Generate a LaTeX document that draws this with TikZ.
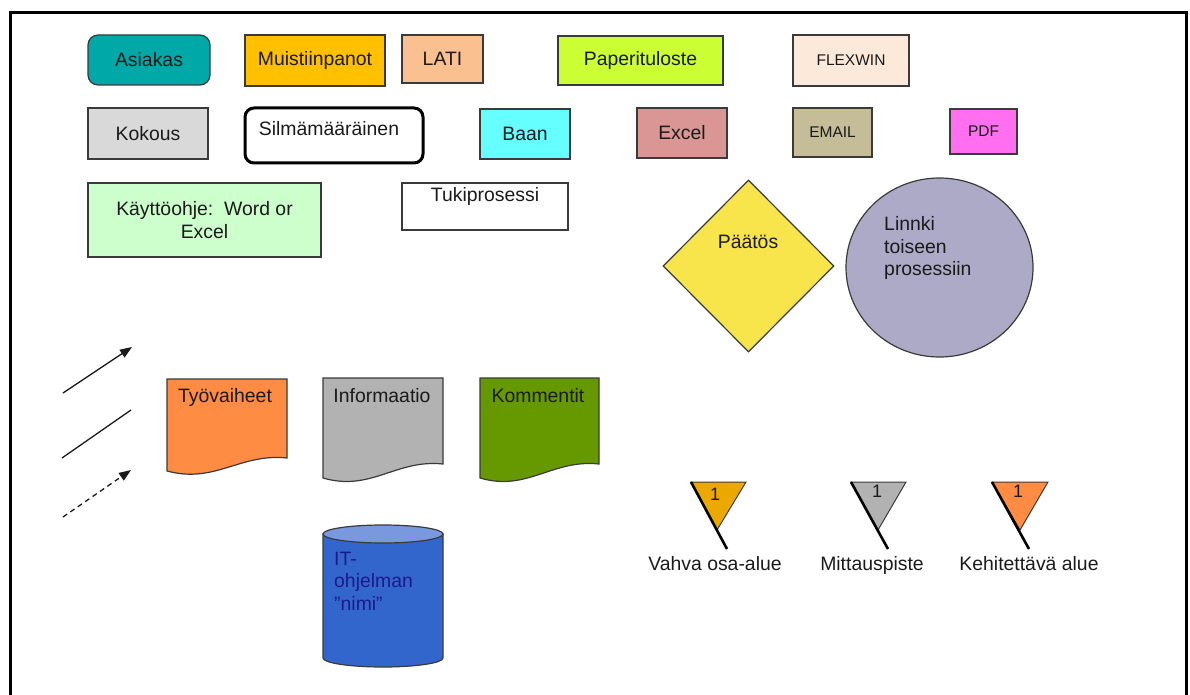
\documentclass[tikz,border=0pt]{standalone}
\usepackage{fontspec}
\setmainfont{Liberation Sans}
\usetikzlibrary{shapes.geometric,arrows.meta}

\definecolor{txt}{HTML}{1A1A1A}
\definecolor{edge}{HTML}{3A3A3A}
\definecolor{cTeal}{HTML}{00A8A8}
\definecolor{cAmber}{HTML}{FFC000}
\definecolor{cPeach}{HTML}{FAC090}
\definecolor{cLime}{HTML}{CCFF33}
\definecolor{cCream}{HTML}{FDE9D9}
\definecolor{cLightGray}{HTML}{D9D9D9}
\definecolor{cCyan}{HTML}{66FFFF}
\definecolor{cRose}{HTML}{D99694}
\definecolor{cKhaki}{HTML}{C4BD97}
\definecolor{cPink}{HTML}{FF6FF0}
\definecolor{cMint}{HTML}{CCFFCC}
\definecolor{cYellow}{HTML}{F8E44B}
\definecolor{cLavender}{HTML}{ADAAC8}
\definecolor{cOrange}{HTML}{FF8C42}
\definecolor{cGray}{HTML}{B2B2B2}
\definecolor{cGreen}{HTML}{669900}
\definecolor{cBlue}{HTML}{3366CC}
\definecolor{cBlueTop}{HTML}{7A98DE}
\definecolor{cNavy}{HTML}{1A1A8C}
\definecolor{cGold}{HTML}{EBA900}

\begin{document}
\begin{tikzpicture}[x=1pt,y=-1pt,
  every node/.style={font=\fontsize{19.4}{22.5}\selectfont, text=txt},
  box/.style={draw=edge, line width=1.2pt, rectangle, inner sep=0pt},
  smallfont/.style={font=\fontsize{15.5}{18}\selectfont},
  docshape/.style={draw=edge, line width=1.2pt},
  arr/.style={draw=txt, line width=1.3pt, -{Triangle[length=12pt,width=9pt]}},
  flagpole/.style={draw=black, line width=2.6pt},
  flagtri/.style={draw=edge, line width=1pt},
  lbl/.style={inner sep=0pt},
  baselbl/.style={inner sep=0pt, anchor=base},
  flagnum/.style={inner sep=0pt, anchor=base, font=\fontsize{18}{20}\selectfont}
]
\useasboundingbox (0,0) rectangle (1190,695);
\clip (0,0) rectangle (1190,695);

% page frame (open at the bottom)
\draw[line width=3pt, black] (10.5,720) -- (10.5,12.5) -- (1186,12.5) -- (1186,720);

% --- first row of symbols
\node[box, fill=cTeal, rounded corners=10pt, minimum width=122pt, minimum height=50pt] (asiakas) at (149,60) {Asiakas};
\node[box, fill=cAmber, minimum width=140pt, minimum height=51pt] (muist) at (315,60.5) {Muistiinpanot};
\node[box, fill=cPeach, minimum width=81pt, minimum height=48pt] (lati) at (442.5,59) {\raisebox{1pt}{LATI}};
\node[box, fill=cLime, minimum width=165pt, minimum height=49pt] (paperi) at (640.5,60.5) {Paperituloste};
\node[box, fill=cCream, minimum width=116pt, minimum height=51pt, smallfont] (flexwin) at (851,60.5) {FLEXWIN};

% --- second row
\node[box, fill=cLightGray, minimum width=120pt, minimum height=51pt] (kokous) at (148,133.5) {Kokous};
\node[draw=black, line width=3pt, rounded corners=9pt, minimum width=178pt, minimum height=55pt, inner sep=0pt] (silm) at (334,135.5) {};
\node[baselbl] (silmtxt) at (329,136) {Silmämääräinen};
\node[box, fill=cCyan, minimum width=90pt, minimum height=50pt] (baan) at (525,134) {Baan};
\node[box, fill=cRose, minimum width=90pt, minimum height=50pt] (excel) at (682,133) {Excel};
\node[box, fill=cKhaki, minimum width=79pt, minimum height=49pt, smallfont] (email) at (832.5,132.5) {EMAIL};
\node[box, fill=cPink, minimum width=67pt, minimum height=45pt, smallfont] (pdf) at (983.5,131.5) {PDF};

% --- third row
\node[box, fill=cMint, minimum width=233pt, minimum height=74pt, align=center] (kaytto) at (204.5,220) {Käyttöohje:\ \ Word or\\Excel};
\node[box, fill=white, minimum width=166pt, minimum height=47pt] (tuki) at (485,206.5) {};
\node[baselbl] (tukitxt) at (485,201.5) {Tukiprosessi};

% decision and off-page link
\node[draw=edge, line width=1.2pt, fill=cYellow, diamond, aspect=1, inner sep=0pt,
      minimum width=171pt, minimum height=172pt] (paatos) at (748.5,266) {};
\node[baselbl] (paatostxt) at (748,248) {Päätös};
\node[draw=edge, line width=1.2pt, fill=cLavender, ellipse, inner sep=0pt,
      minimum width=187pt, minimum height=179pt] (linkki) at (939.5,267.5) {};
\node[lbl, anchor=west, align=left] (linkkitxt) at (884,248) {Linnki\\toiseen\\prosessiin};

% --- connector samples
\coordinate (a1s) at (63,393);  \coordinate (a1e) at (132,347);
\coordinate (a2s) at (62,458);  \coordinate (a2e) at (131,410);
\coordinate (a3s) at (63,517);  \coordinate (a3e) at (131,470);
\draw[arr] (a1s) -- (a1e);
\draw[draw=txt, line width=1.3pt] (a2s) -- (a2e);
\draw[arr, dash pattern=on 5pt off 4pt] (a3s) -- (a3e);

% --- document shapes
\draw[docshape, fill=cOrange] (167,379) -- (287,379) -- (287,458)
  .. controls (240,453) and (215,484) .. (167,471) -- cycle;
\node[baselbl] (tyovaiheet) at (225,402) {Työvaiheet};
\draw[docshape, fill=cGray] (323,378) -- (443,378) -- (443,464)
  .. controls (396,459) and (371,492) .. (323,478) -- cycle;
\node[baselbl] (informaatio) at (382,402.5) {Informaatio};
\draw[docshape, fill=cGreen] (480,378) -- (599,378) -- (599,464)
  .. controls (552,459) and (527,492) .. (480,478) -- cycle;
\node[baselbl] (kommentit) at (538,402.5) {Kommentit};

% --- database cylinder
\draw[docshape, fill=cBlue] (323,534) -- (323,658)
  arc[start angle=180, end angle=360, x radius=60pt, y radius=9pt] -- (443,534) -- cycle;
\draw[docshape, fill=cBlueTop] (383,534) ellipse[x radius=60pt, y radius=9pt];
\node[lbl, anchor=west, align=left, text=cNavy] (ittxt) at (334,581) {IT-\\ohjelman\\”nimi”};

% --- flags
\draw[flagtri, fill=cGold] (691,482) -- (746,482) -- (717,530) -- cycle;
\draw[flagpole] (691,482) -- (727,549);
\node[flagnum] (f1num) at (715,500) {1};
\node[baselbl] (f1lbl) at (715,570) {Vahva osa-alue};

\draw[flagtri, fill=cGray] (851,482) -- (906,482) -- (878,530) -- cycle;
\draw[flagpole] (851,482) -- (888,549);
\node[flagnum] (f2num) at (877,497) {1};
\node[baselbl] (f2lbl) at (872,570) {Mittauspiste};

\draw[flagtri, fill=cOrange] (992,482) -- (1048,482) -- (1020,530) -- cycle;
\draw[flagpole] (992,482) -- (1029,549);
\node[flagnum] (f3num) at (1018,497) {1};
\node[baselbl] (f3lbl) at (1029,570) {Kehitettävä alue};
\end{tikzpicture}
\end{document}
